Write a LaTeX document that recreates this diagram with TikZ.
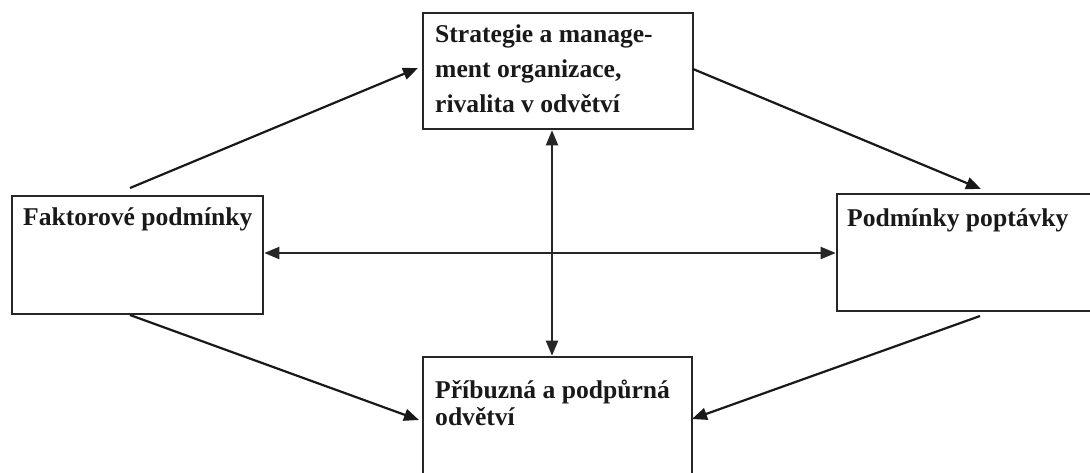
\documentclass[tikz,border=0pt]{standalone}
\usepackage{fontspec}
\setmainfont{Liberation Serif}
\usetikzlibrary{arrows.meta}
\begin{document}
\begin{tikzpicture}[x=1pt,y=-1pt,
  box/.style={draw=black!85, line width=2.6pt, rectangle, inner sep=0pt},
  lbl/.style={anchor=north west, inner sep=0pt, align=left, text=black!90,
    font=\fontsize{25.6}{35}\selectfont\bfseries},
  conn/.style={draw=black!90, line width=2.2pt, -{Triangle[length=15pt,width=12pt]}},
  dbl/.style={draw=black!85, line width=2pt, {Triangle[length=15pt,width=12pt]}-{Triangle[length=15pt,width=12pt]}}]
\useasboundingbox (0,0) rectangle (1090,472);
\begin{scope}
\clip (0,0) rectangle (1090,472);
\node[box, minimum width=270pt, minimum height=116pt] (T) at (558,71) {};
\node[box, minimum width=251pt, minimum height=118pt] (L) at (137.5,255) {};
\node[box, minimum width=280pt, minimum height=117pt] (R) at (977,252.5) {};
\node[box, minimum width=269pt, minimum height=140pt] (B) at (557.5,427) {};
\end{scope}
\node[lbl] (tT) at (435,24.5) {Strategie a manage-\\ment organizace,\\rivalita v odvětví};
\node[lbl] (tL) at (23,207.5) {Faktorové podmínky};
\node[lbl] (tR) at (847,208.5) {Podmínky poptávky};
\node[lbl, font=\fontsize{25.6}{27}\selectfont\bfseries] (tB) at (435,379.5) {Příbuzná a podpůrná\\odvětví};
% connector end points
\coordinate (a1) at (130,188);
\coordinate (a2) at (418,68);
\coordinate (b1) at (693,69);
\coordinate (b2) at (981,189);
\coordinate (c1) at (130,315);
\coordinate (c2) at (419,420);
\coordinate (d1) at (980,316);
\coordinate (d2) at (692,419);
\coordinate (vx) at (552,0);
\coordinate (hy) at (0,253);
\draw[conn] (a1) -- (a2);
\draw[conn] (b1) -- (b2);
\draw[conn] (c1) -- (c2);
\draw[conn] (d1) -- (d2);
\draw[dbl] (T.south -| vx) -- (B.north -| vx);
\draw[dbl] (L.east |- hy) -- (R.west |- hy);
\end{tikzpicture}
\end{document}
